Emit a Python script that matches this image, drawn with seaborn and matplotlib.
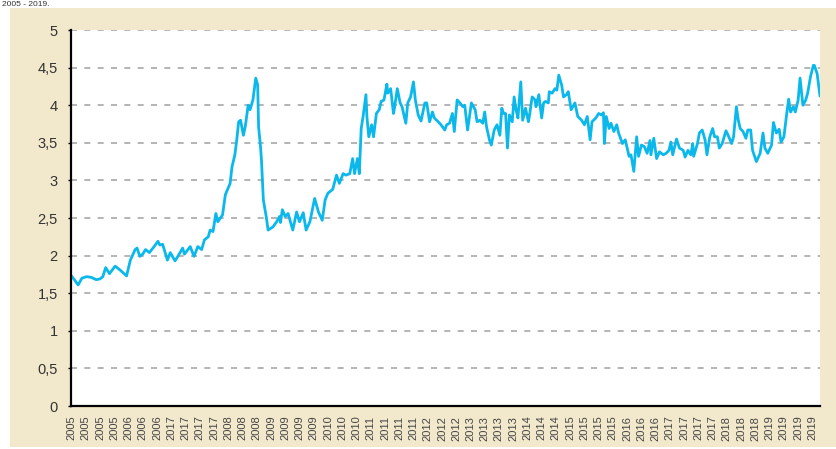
import matplotlib
matplotlib.use("Agg")
import matplotlib.pyplot as plt
import seaborn as sns
from matplotlib.patches import Rectangle

weeks = [
    0, 3, 7, 11, 16, 21, 26, 30, 33, 36,
    40, 46, 51, 58, 62, 67, 69, 72, 75, 78,
    82, 87, 91, 93, 96, 101, 104, 109, 112, 117,
    119, 125, 129, 133, 137, 140, 144, 146, 149, 152,
    154, 159, 162, 167, 169, 172, 174, 176, 178, 181,
    183, 186, 188, 191, 194, 196, 197, 199, 200, 202,
    205, 207, 212, 216, 219, 220, 222, 225, 228, 233,
    237, 240, 244, 247, 251, 256, 260, 264, 267, 270,
    275, 279, 282, 286, 289, 293, 296, 298, 301, 303,
    305, 307, 310, 311, 313, 316, 318, 321, 324, 326,
    329, 332, 333, 336, 339, 340, 343, 346, 348, 352,
    354, 357, 360, 362, 365, 368, 372, 374, 377, 380,
    382, 386, 389, 393, 395, 398, 401, 403, 406, 409,
    412, 414, 417, 421, 425, 427, 430, 433, 435, 437,
    440, 442, 445, 448, 451, 453, 455, 457, 459, 461,
    464, 466, 468, 470, 473, 475, 478, 481, 482, 485,
    488, 489, 492, 495, 497, 499, 502, 503, 506, 509,
    511, 513, 516, 518, 521, 523, 526, 530, 533, 537,
    540, 543, 546, 548, 552, 555, 558, 560, 561, 563,
    566, 568, 571, 574, 576, 580, 583, 587, 589, 592,
    595, 597, 600, 603, 606, 609, 610, 613, 616, 619,
    623, 626, 629, 631, 633, 635, 637, 640, 644, 646,
    649, 652, 654, 655, 659, 661, 664, 667, 669, 672,
    675, 677, 680, 682, 685, 689, 692, 695, 697, 700,
    702, 704, 707, 710, 712, 715, 717, 721, 725, 728,
    730, 733, 737, 739, 742, 745, 747, 750, 753, 755,
    757, 760, 762, 765, 767, 770, 773, 775, 778, 781,
    782, 785, 788,
]
rate = [
    1.73, 1.68, 1.61, 1.70, 1.72, 1.71, 1.68, 1.69, 1.72, 1.84,
    1.76, 1.86, 1.81, 1.73, 1.94, 2.08, 2.10, 1.99, 2.02, 2.08,
    2.04, 2.12, 2.19, 2.14, 2.15, 1.94, 2.04, 1.93, 1.99, 2.10,
    2.02, 2.12, 1.99, 2.12, 2.08, 2.21, 2.25, 2.34, 2.32, 2.56,
    2.45, 2.54, 2.81, 2.96, 3.18, 3.34, 3.54, 3.78, 3.80, 3.60,
    3.72, 4.00, 3.94, 4.07, 4.36, 4.27, 3.71, 3.45, 3.27, 2.74,
    2.52, 2.34, 2.38, 2.45, 2.52, 2.44, 2.61, 2.52, 2.56, 2.34,
    2.58, 2.45, 2.57, 2.34, 2.45, 2.76, 2.58, 2.47, 2.74, 2.83,
    2.88, 3.07, 2.96, 3.09, 3.07, 3.09, 3.29, 3.09, 3.29, 3.09,
    3.69, 3.85, 4.14, 3.85, 3.58, 3.74, 3.58, 3.89, 3.94, 4.05,
    4.07, 4.28, 4.16, 4.22, 3.89, 3.96, 4.22, 4.03, 3.98, 3.76,
    4.03, 4.11, 4.31, 4.07, 3.87, 3.79, 4.03, 4.03, 3.78, 3.91,
    3.83, 3.78, 3.74, 3.67, 3.74, 3.76, 3.89, 3.65, 4.07, 4.03,
    3.98, 4.00, 3.67, 4.03, 3.94, 3.78, 3.80, 3.76, 3.91, 3.71,
    3.54, 3.47, 3.67, 3.74, 3.60, 3.96, 3.89, 3.89, 3.43, 3.87,
    3.78, 4.11, 3.94, 3.83, 4.31, 3.80, 3.96, 3.78, 3.85, 4.11,
    4.07, 3.98, 4.14, 3.83, 4.03, 4.05, 4.03, 4.18, 4.16, 4.22,
    4.20, 4.40, 4.27, 4.11, 4.14, 4.18, 3.94, 4.03, 3.85, 3.80,
    3.74, 3.85, 3.54, 3.78, 3.83, 3.89, 3.87, 3.90, 3.49, 3.85,
    3.69, 3.76, 3.65, 3.74, 3.63, 3.49, 3.54, 3.32, 3.34, 3.12,
    3.58, 3.32, 3.47, 3.45, 3.36, 3.53, 3.34, 3.56, 3.29, 3.38,
    3.34, 3.36, 3.40, 3.51, 3.34, 3.45, 3.55, 3.43, 3.40, 3.31,
    3.40, 3.34, 3.49, 3.32, 3.49, 3.63, 3.67, 3.54, 3.34, 3.58,
    3.69, 3.58, 3.58, 3.43, 3.49, 3.66, 3.58, 3.49, 3.58, 3.98,
    3.80, 3.69, 3.65, 3.56, 3.67, 3.67, 3.40, 3.25, 3.36, 3.63,
    3.43, 3.36, 3.47, 3.77, 3.63, 3.68, 3.51, 3.58, 3.89, 4.08,
    3.91, 3.98, 3.91, 4.07, 4.36, 4.00, 4.07, 4.16, 4.38, 4.53,
    4.53, 4.42, 4.12,
]

# x labels as printed on the original (including its "2017" for 2007)
tick_labels = [
    "2005", "2005", "2005", "2005", "2006", "2006", "2006",
    "2017", "2017", "2017", "2017", "2008", "2008", "2008",
    "2009", "2009", "2009", "2009", "2010", "2010", "2010",
    "2011", "2011", "2011", "2011", "2012", "2012", "2012",
    "2013", "2013", "2013", "2013", "2014", "2014", "2014",
    "2015", "2015", "2015", "2015", "2016", "2016", "2016",
    "2017", "2017", "2017", "2017", "2018", "2018", "2018",
    "2019", "2019", "2019", "2019",
]
y_ticks = [0, 0.5, 1, 1.5, 2, 2.5, 3, 3.5, 4, 4.5, 5]
y_tick_labels = ["0", "0,5", "1", "1,5", "2", "2,5", "3", "3,5", "4", "4,5", "5"]

sns.set_style("white")
plt.rcParams["font.family"] = ["Liberation Sans", "DejaVu Sans"]

W, H = 836, 449
fig = plt.figure(figsize=(W / 100, H / 100), dpi=100)
fig.patch.set_facecolor("white")

# beige panel behind the chart
fig.patches.append(Rectangle((10 / W, 2 / H), 1, 1 - 10 / H, transform=fig.transFigure,
                             facecolor="#F2E8CB", edgecolor="none", zorder=-1))

ax = fig.add_axes([71 / W, 1 - 406 / H, (820 - 71) / W, (406 - 30) / H])
ax.set_facecolor("white")

sns.lineplot(x=weeks, y=rate, ax=ax, color="#0BB8EC", linewidth=2.0, zorder=3)

ax.set_xlim(-0.5, 788)
ax.set_ylim(0, 5)

step = 15
ax.set_xticks([i * step for i in range(len(tick_labels))])
ax.set_xticklabels(tick_labels, rotation=90, fontsize=8, color="#444444",
                   family=["Liberation Sans Narrow", "Liberation Sans"])
ax.set_yticks(y_ticks)
ax.set_yticklabels(y_tick_labels, fontsize=10.5, color="#333333")

ax.tick_params(axis="x", length=0, pad=7)
ax.tick_params(axis="y", length=2.5, width=1, color="black", direction="out", pad=7, left=True)

ax.yaxis.grid(True, linestyle=(0, (3.6, 4.4)), color="#A8A8A8", linewidth=1.2, zorder=1)
ax.xaxis.grid(False)

sns.despine(ax=ax, top=True, right=True)
for side in ("left", "bottom"):
    ax.spines[side].set_color("black")
    ax.spines[side].set_linewidth(1.6)
    ax.spines[side].set_zorder(4)

ax.set_xlabel("")
ax.set_ylabel("")

# small title line in the top-left corner above the panel
fig.text(0.002, 1 - 0.5 / H, "2005 - 2019.", fontsize=6, color="#333333", va="top", ha="left")

fig.savefig("out.png", dpi=100, facecolor=fig.get_facecolor())
